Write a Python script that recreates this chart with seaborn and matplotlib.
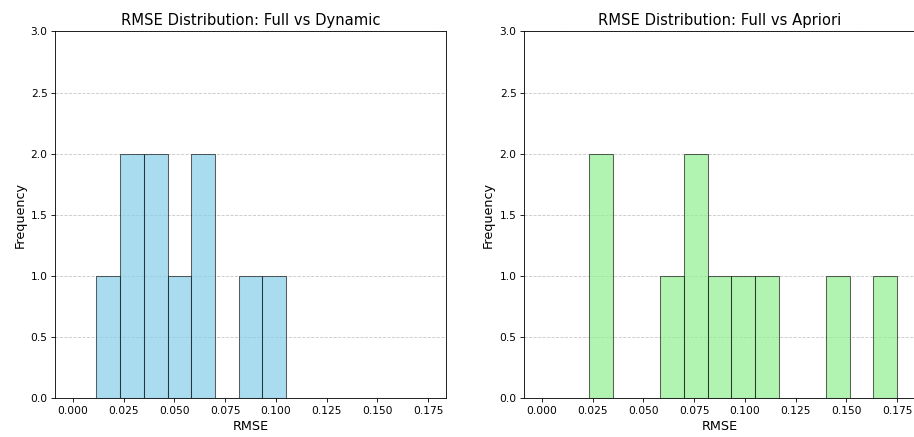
import numpy as np
import pandas as pd
import matplotlib
matplotlib.use("Agg")
import matplotlib.pyplot as plt
import seaborn as sns

rmse_dynamic = [0.017, 0.029, 0.029, 0.041, 0.041, 0.052, 0.064, 0.064, 0.087, 0.099]
rmse_apriori = [0.029, 0.029, 0.064, 0.076, 0.076, 0.087, 0.099, 0.111, 0.146, 0.169]
titles = ["RMSE Distribution: Full vs Dynamic", "RMSE Distribution: Full vs Apriori"]
colors = ["skyblue", "lightgreen"]
x_ticks = [0.000, 0.025, 0.050, 0.075, 0.100, 0.125, 0.150, 0.175]
y_ticks = [0.0, 0.5, 1.0, 1.5, 2.0, 2.5, 3.0]

bin_edges = np.linspace(0, 0.175, 16)

plt.rcParams['font.family'] = ['DejaVu Sans']
fig, axes = plt.subplots(1, 2, figsize=(12, 437 / (914 / 12)), dpi=914 / 12)
fig.subplots_adjust(left=0.0602, right=1.001, top=0.928, bottom=0.089, wspace=0.1995)

for ax, data, title, color in zip(axes, [rmse_dynamic, rmse_apriori], titles, colors):
    df = pd.DataFrame({"RMSE": data})
    sns.histplot(data=df, x="RMSE", bins=bin_edges, color=color, alpha=0.7,
                 edgecolor=(0, 0, 0, 0.6), linewidth=1, ax=ax)
    ax.set_title(title, fontsize=14)
    ax.set_xlabel("RMSE", fontsize=12)
    ax.set_ylabel("Frequency", fontsize=12)
    ax.set_ylim(0, 3)
    ax.set_yticks(y_ticks)
    ax.set_xticks(x_ticks)
    ax.set_xlim(-0.00875, 0.18375)
    ax.grid(axis="y", linestyle="--", alpha=0.7)
    ax.set_axisbelow(True)

fig.savefig("out.png", dpi=914 / 12)
